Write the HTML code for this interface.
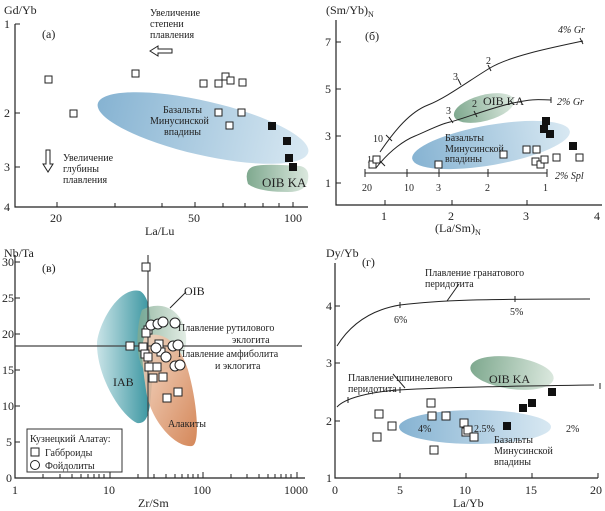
<!DOCTYPE html>
<html><head><meta charset="utf-8"><style>
body{margin:0;background:#fff}
svg{display:block}
text{font-family:"Liberation Serif","DejaVu Serif",serif;fill:#222}
.s{font-size:10px}.m{font-size:12px}.l{font-size:13px}
.os{fill:#fff;stroke:#222;stroke-width:1}
.fs{fill:#111}
.ax{stroke:#222;stroke-width:1.2;fill:none}
.cv{stroke:#222;stroke-width:1;fill:none}
</style></head><body>
<svg width="605" height="511" viewBox="0 0 605 511" xmlns="http://www.w3.org/2000/svg">
<defs>
<linearGradient id="bl" x1="0" y1="0" x2="1" y2="0"><stop offset="0" stop-color="#86b3d2"/><stop offset="1" stop-color="#d8e8f2"/></linearGradient>
<linearGradient id="gr" x1="0" y1="0" x2="1" y2="0"><stop offset="0" stop-color="#7fa98f"/><stop offset="1" stop-color="#dbe8de"/></linearGradient>
<linearGradient id="tl" x1="0" y1="0" x2="1" y2="0"><stop offset="0" stop-color="#c6e2e6"/><stop offset="1" stop-color="#2a8d99"/></linearGradient>
<linearGradient id="or" x1="0" y1="0" x2="1" y2="1"><stop offset="0" stop-color="#f3d6c2"/><stop offset="1" stop-color="#d07a47"/></linearGradient>
</defs>

<!-- Panel a -->
<text x="4" y="14" class="m">Gd/Yb</text>
<path class="ax" d="M15 24 V207 H308"/>
<g class="cv"><path d="M15 24h5M15 113h5M15 167h5"/><path d="M57 207v-5M115 207v-4M162 207v-4M195 207v-5M223 207v-4M245 207v-4M263 207v-4M279 207v-4M293 207v-5"/></g>
<text x="4" y="28" class="m">1</text><text x="4" y="117" class="m">2</text><text x="4" y="171" class="m">3</text><text x="4" y="211" class="m">4</text>
<text x="50" y="222" class="m">20</text><text x="188" y="222" class="m">50</text><text x="284" y="222" class="m">100</text>
<text x="145" y="235" class="m">La/Lu</text>
<text x="42" y="38" class="m">(a)</text>
<text x="150" y="16" class="s">Увеличение</text><text x="150" y="27" class="s">степени</text><text x="150" y="38" class="s">плавления</text>
<path d="M150 51l8-5v3h14v4h-14v3z" fill="#fff" stroke="#222"/>
<path d="M48 172l-5-8h3v-14h4v14h3z" fill="#fff" stroke="#222"/>
<text x="63" y="161" class="s">Увеличение</text><text x="63" y="172" class="s">глубины</text><text x="63" y="183" class="s">плавления</text>
<ellipse cx="203" cy="128" rx="108" ry="27" transform="rotate(13 203 128)" fill="url(#bl)"/>
<path d="M252 167q8-4 48-1q10 2 8 14q-2 12-20 12q-30 0-40-8q-4-13 4-17z" fill="url(#gr)"/>
<text x="163" y="113" class="s">Базальты</text><text x="150" y="124" class="s">Минусинской</text><text x="164" y="135" class="s">впадины</text>
<text x="262" y="187" class="l">OIB KA</text>
<g class="os"><rect x="45" y="76" width="7" height="7"/><rect x="132" y="70" width="7" height="7"/><rect x="200" y="80" width="7" height="7"/><rect x="215" y="80" width="7" height="7"/><rect x="222" y="73" width="7" height="7"/><rect x="227" y="77" width="7" height="7"/><rect x="239" y="79" width="7" height="7"/><rect x="215" y="109" width="7" height="7"/><rect x="238" y="109" width="7" height="7"/><rect x="226" y="122" width="7" height="7"/><rect x="70" y="110" width="7" height="7"/></g>
<g class="fs"><rect x="268" y="122" width="8" height="8"/><rect x="283" y="137" width="8" height="8"/><rect x="285" y="154" width="8" height="8"/><rect x="289" y="163" width="8" height="8"/></g>

<!-- Panel b -->
<text x="326" y="14" class="m">(Sm/Yb)<tspan font-size="8" dy="3">N</tspan></text>
<path class="ax" d="M336 20 V205 H602"/>
<g class="cv"><path d="M336 42h5M336 89h5M336 136h5M336 183h5M385 205v-5M452 205v-5M527 205v-5"/></g>
<text x="325" y="46" class="m">7</text><text x="325" y="93" class="m">5</text><text x="325" y="140" class="m">3</text><text x="325" y="187" class="m">1</text>
<text x="381" y="220" class="m">1</text><text x="448" y="220" class="m">2</text><text x="523" y="220" class="m">3</text><text x="594" y="220" class="m">4</text>
<text x="435" y="232" class="m">(La/Sm)<tspan font-size="8" dy="3">N</tspan></text>
<text x="365" y="40" class="m">(б)</text>
<ellipse cx="484" cy="108" rx="31" ry="13" transform="rotate(-15 484 108)" fill="url(#gr)"/>
<ellipse cx="491" cy="145" rx="80" ry="20" transform="rotate(-10 491 145)" fill="url(#bl)"/>
<path class="cv" d="M380 152C395 130 410 112 428 105S470 80 490 68S550 48 583 41"/>
<path class="cv" d="M376 168C390 150 405 140 415 136S440 124 450 122S490 108 513 103S540 100 551 100"/>
<path class="cv" d="M365 173H547M365 169v8M407 169v8M439 169v8M488 169v8M547 169v8M580 38l3 6M551 97v6M386 135l6 6M379 160l6 6M458 79l3 6M488 65l3 6M449 117l4 6M474 111l3 6"/>
<text x="558" y="33" class="s" font-style="italic">4% Gr</text>
<text x="557" y="105" class="s" font-style="italic">2% Gr</text>
<text x="555" y="179" class="s" font-style="italic">2% Spl</text>
<text x="373" y="142" class="s">10</text><text x="367" y="163" class="s">10</text>
<text x="453" y="80" class="s">3</text><text x="486" y="64" class="s">2</text>
<text x="446" y="114" class="s">3</text><text x="472" y="107" class="s">2</text>
<text x="483" y="105" class="m">OIB KA</text>
<text x="445" y="141" class="s">Базальты</text><text x="445" y="152" class="s">Минусинской</text><text x="445" y="162" class="s">впадины</text>
<text x="362" y="191" class="s">20</text><text x="404" y="191" class="s">10</text><text x="436" y="191" class="s">3</text><text x="485" y="191" class="s">2</text><text x="543" y="191" class="s">1</text>
<g class="os"><rect x="369" y="161" width="7" height="7"/><rect x="373" y="156" width="7" height="7"/><rect x="435" y="161" width="7" height="7"/><rect x="500" y="151" width="7" height="7"/><rect x="523" y="146" width="7" height="7"/><rect x="533" y="146" width="7" height="7"/><rect x="532" y="158" width="7" height="7"/><rect x="537" y="161" width="7" height="7"/><rect x="541" y="156" width="7" height="7"/><rect x="553" y="154" width="7" height="7"/><rect x="576" y="154" width="7" height="7"/></g>
<g class="fs"><rect x="542" y="117" width="8" height="8"/><rect x="540" y="125" width="8" height="8"/><rect x="546" y="130" width="8" height="8"/><rect x="569" y="142" width="8" height="8"/></g>

<!-- Panel c -->
<text x="4" y="257" class="m">Nb/Ta</text>
<path class="ax" d="M15 255 V478 H305"/>
<g class="cv"><path d="M15 262h5M15 298h5M15 334h5M15 370h5M15 406h5M15 442h5"/><path d="M43 478v-4M60 478v-4M72 478v-4M81 478v-4M88 478v-4M94 478v-4M99 478v-4M104 478v-4M110 478v-6M138 478v-4M154 478v-4M166 478v-4M175 478v-4M182 478v-4M188 478v-4M193 478v-4M198 478v-4M203 478v-6M231 478v-4M247 478v-4M259 478v-4M268 478v-4M275 478v-4M281 478v-4M286 478v-4M291 478v-4M297 478v-6"/></g>
<text x="2" y="266" class="m">30</text><text x="2" y="302" class="m">25</text><text x="2" y="338" class="m">20</text><text x="2" y="374" class="m">15</text><text x="2" y="410" class="m">10</text><text x="6" y="446" class="m">5</text><text x="6" y="482" class="m">0</text>
<text x="12" y="494" class="m">1</text><text x="103" y="494" class="m">10</text><text x="193" y="494" class="m">100</text><text x="284" y="494" class="m">1000</text>
<text x="138" y="507" class="m">Zr/Sm</text>
<text x="42" y="272" class="m">(в)</text>
<path d="M140 291C120 286 100 320 97 342C96 375 120 415 137 423C150 425 150 405 152 383C150 340 155 300 140 291z" fill="url(#tl)" opacity="0.95"/>
<path d="M142 310C160 300 180 308 185 330C190 350 180 370 150 374C135 370 135 330 142 310z" fill="url(#gr)" opacity="0.8"/>
<path d="M145 336C165 330 180 345 188 370C198 405 200 445 192 446C175 448 150 420 146 390C143 370 140 345 145 336z" fill="url(#or)" opacity="0.9"/>
<path d="M15 346H302M148 255V478" stroke="#444" stroke-width="1.2"/>
<path class="cv" d="M170 308L186 292"/>
<text x="184" y="295" class="m">OIB</text>
<text x="178" y="331" class="s">Плавление рутилового</text><text x="232" y="343" class="s">эклогита</text>
<text x="178" y="357" class="s">Плавление амфиболита</text><text x="215" y="369" class="s">и эклогита</text>
<text x="113" y="386" class="m">IAB</text>
<text x="168" y="427" class="s">Алакиты</text>
<g class="os"><rect x="142" y="263" width="8" height="8"/><rect x="144" y="326" width="8" height="8"/><rect x="142" y="329" width="8" height="8"/><rect x="126" y="342" width="8" height="8"/><rect x="139" y="343" width="8" height="8"/><rect x="155" y="340" width="8" height="8"/><rect x="141" y="350" width="8" height="8"/><rect x="144" y="353" width="8" height="8"/><rect x="157" y="348" width="8" height="8"/><rect x="145" y="363" width="8" height="8"/><rect x="153" y="363" width="8" height="8"/><rect x="149" y="374" width="8" height="8"/><rect x="159" y="373" width="8" height="8"/><rect x="163" y="394" width="8" height="8"/><rect x="174" y="388" width="8" height="8"/></g>
<g class="os"><circle cx="151" cy="325" r="5"/><circle cx="158" cy="324" r="5"/><circle cx="163" cy="322" r="5"/><circle cx="175" cy="323" r="5"/><circle cx="156" cy="348" r="5"/><circle cx="166" cy="357" r="5"/><circle cx="173" cy="346" r="5"/><circle cx="178" cy="345" r="5"/><circle cx="175" cy="366" r="5"/><circle cx="180" cy="365" r="5"/></g>
<rect x="27" y="429" width="95" height="43" fill="#fff" stroke="#333"/>
<text x="30" y="442" class="s">Кузнецкий Алатау:</text>
<rect x="31" y="448" width="8" height="8" class="os"/><text x="45" y="456" class="s">Габброиды</text>
<circle cx="35" cy="465" r="4.5" class="os"/><text x="45" y="469" class="s">Фойдолиты</text>

<!-- Panel d -->
<text x="326" y="257" class="m">Dy/Yb</text>
<path class="ax" d="M335 263 V478 H598"/>
<g class="cv"><path d="M335 306h5M335 363h5M335 421h5M400 478v-5M466 478v-5M532 478v-5M598 478v-5"/></g>
<text x="326" y="310" class="m">4</text><text x="326" y="367" class="m">3</text><text x="326" y="425" class="m">2</text><text x="326" y="482" class="m">1</text>
<text x="332" y="494" class="m">0</text><text x="397" y="494" class="m">5</text><text x="459" y="494" class="m">10</text><text x="525" y="494" class="m">15</text><text x="590" y="494" class="m">20</text>
<text x="453" y="507" class="m">La/Yb</text>
<text x="362" y="266" class="m">(г)</text>
<ellipse cx="512" cy="373" rx="42" ry="16" transform="rotate(8 512 373)" fill="url(#gr)"/>
<ellipse cx="475" cy="427" rx="76" ry="17" fill="url(#bl)"/>
<path class="cv" d="M337 346C350 325 370 310 400 305C440 300 480 299 590 299"/>
<path class="cv" d="M337 407C345 398 370 392 398 390C450 387 520 386 594 385"/>
<path class="cv" d="M400 302v6M515 296v6M348 397v6M400 387v6M600 383v6M447 301l12-17M405 388l-12-14"/>
<text x="425" y="276" class="s">Плавление гранатового</text><text x="425" y="287" class="s">перидотита</text>
<text x="394" y="323" class="s">6%</text><text x="510" y="315" class="s">5%</text>
<text x="348" y="381" class="s">Плавление шпинелевого</text><text x="348" y="392" class="s">перидотита</text>
<text x="489" y="383" class="m">OIB KA</text>
<text x="418" y="432" class="s">4%</text><text x="474" y="432" class="s">2.5%</text><text x="566" y="432" class="s">2%</text>
<text x="494" y="443" class="s">Базальты</text><text x="494" y="454" class="s">Минусинской</text><text x="494" y="465" class="s">впадины</text>
<g class="os"><rect x="375" y="410" width="8" height="8"/><rect x="373" y="433" width="8" height="8"/><rect x="388" y="422" width="8" height="8"/><rect x="427" y="399" width="8" height="8"/><rect x="428" y="412" width="8" height="8"/><rect x="442" y="412" width="8" height="8"/><rect x="430" y="446" width="8" height="8"/><rect x="460" y="419" width="8" height="8"/><rect x="462" y="428" width="8" height="8"/><rect x="464" y="426" width="8" height="8"/><rect x="470" y="433" width="8" height="8"/></g>
<g class="fs"><rect x="503" y="422" width="8" height="8"/><rect x="519" y="404" width="8" height="8"/><rect x="528" y="399" width="8" height="8"/><rect x="548" y="388" width="8" height="8"/></g>
</svg>
</body></html>
